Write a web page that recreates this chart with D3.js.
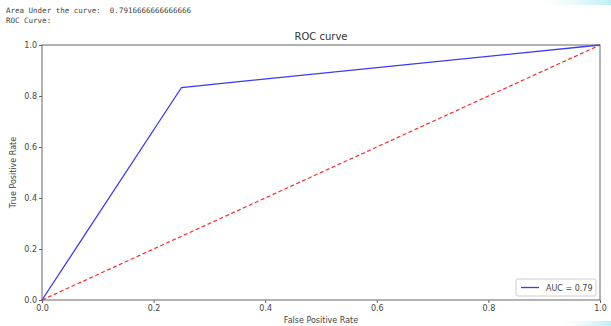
<!DOCTYPE html>
<html>
<head>
<meta charset="utf-8">
<script src="https://cdn.jsdelivr.net/npm/d3@7"></script>
<style>
  body { margin: 0; background: #fff; }
  svg { display: block; }
</style>
</head>
<body>
<svg id="chart" width="611" height="326"></svg>
<script>
// ROC points
const fpr = [0, 0.25, 1];
const tpr = [0, 0.8333, 1];
const chance = [0, 1];
const tickValues = [0, 0.2, 0.4, 0.6, 0.8, 1.0];
const aucText = "Area Under the curve:  0.7916666666666666";
const legendLabel = "AUC = 0.79";

const width = 611, height = 326;
const margin = { left: 42, right: 11, top: 45, bottom: 26 };

const svg = d3.select("#chart");

// notebook output text
svg.append("text")
  .attr("x", 6).attr("y", 13)
  .attr("font-family", "DejaVu Sans Mono").attr("font-size", 7.5)
  .attr("fill", "#444")
  .attr("xml:space", "preserve")
  .text(aucText);
svg.append("text")
  .attr("x", 6).attr("y", 23)
  .attr("font-family", "DejaVu Sans Mono").attr("font-size", 7.5)
  .attr("fill", "#444")
  .text("ROC Curve:");

var x = d3.scaleLinear().domain([0, 1]).range([margin.left, width - margin.right]);
var y = d3.scaleLinear().domain([0, 1]).range([height - margin.bottom, margin.top]);

var g = svg.append("g");

var xAxis = d3.axisBottom(x).tickValues(tickValues).tickFormat(d3.format(".1f")).tickSize(3).tickPadding(2);
var yAxis = d3.axisLeft(y).tickValues(tickValues).tickFormat(d3.format(".1f")).tickSize(3).tickPadding(2);

g.append("g")
  .attr("transform", "translate(0," + y(0) + ")")
  .call(xAxis)
  .call(a => a.select(".domain").remove());
g.append("g")
  .attr("transform", "translate(" + x(0) + ",0)")
  .call(yAxis)
  .call(a => a.select(".domain").remove());

svg.selectAll(".tick text")
  .attr("font-family", "DejaVu Sans").attr("font-size", 8).attr("fill", "#444");
svg.selectAll(".tick line").attr("stroke", "#666");

// chance line
var line = d3.line().x(d => x(d[0])).y(d => y(d[1]));
g.append("path")
  .datum(chance.map(v => [v, v]))
  .attr("d", line)
  .attr("fill", "none")
  .attr("stroke", "#f03030")
  .attr("stroke-width", 1.2)
  .attr("stroke-dasharray", "4,2.5");

// roc curve
g.append("path")
  .datum(fpr.map((f, i) => [f, tpr[i]]))
  .attr("d", line)
  .attr("fill", "none")
  .attr("stroke", "#3b3bf0")
  .attr("stroke-width", 1.3);

// frame
g.append("rect")
  .attr("x", x(0)).attr("y", y(1))
  .attr("width", x(1) - x(0)).attr("height", y(0) - y(1))
  .attr("fill", "none").attr("stroke", "#666").attr("stroke-width", 1);

// title & labels
svg.append("text")
  .attr("x", (x(0) + x(1)) / 2).attr("y", 40)
  .attr("text-anchor", "middle")
  .attr("font-family", "DejaVu Sans").attr("font-size", 10).attr("fill", "#333")
  .text("ROC curve");
svg.append("text")
  .attr("x", (x(0) + x(1)) / 2).attr("y", 323)
  .attr("text-anchor", "middle")
  .attr("font-family", "DejaVu Sans").attr("font-size", 8).attr("fill", "#444")
  .text("False Positive Rate");
svg.append("text")
  .attr("transform", "translate(16," + (y(0) + y(1)) / 2 + ") rotate(-90)")
  .attr("text-anchor", "middle")
  .attr("font-family", "DejaVu Sans").attr("font-size", 8).attr("fill", "#444")
  .text("True Positive Rate");

// legend
var lg = svg.append("g").attr("transform", "translate(" + (x(1) - 84) + "," + (y(0) - 21) + ")");
lg.append("rect")
  .attr("width", 80).attr("height", 17).attr("rx", 2)
  .attr("fill", "#fff").attr("stroke", "#ccc");
lg.append("line")
  .attr("x1", 5).attr("x2", 23).attr("y1", 8.5).attr("y2", 8.5)
  .attr("stroke", "#3b3bf0").attr("stroke-width", 1.3);
lg.append("text")
  .attr("x", 30).attr("y", 11.5)
  .attr("font-family", "DejaVu Sans").attr("font-size", 8).attr("fill", "#444")
  .text(legendLabel);

// slide decoration at the corners
var grad = svg.append("defs").append("linearGradient").attr("id", "cy");
grad.append("stop").attr("offset", "0").attr("stop-color", "#e0f8fb").attr("stop-opacity", 0);
grad.append("stop").attr("offset", "1").attr("stop-color", "#bdeff5");
svg.append("rect").attr("x", 540).attr("y", 0).attr("width", 71).attr("height", 5).attr("fill", "url(#cy)");
svg.append("rect").attr("x", 560).attr("y", 321).attr("width", 51).attr("height", 5).attr("fill", "url(#cy)");
</script>
</body>
</html>
